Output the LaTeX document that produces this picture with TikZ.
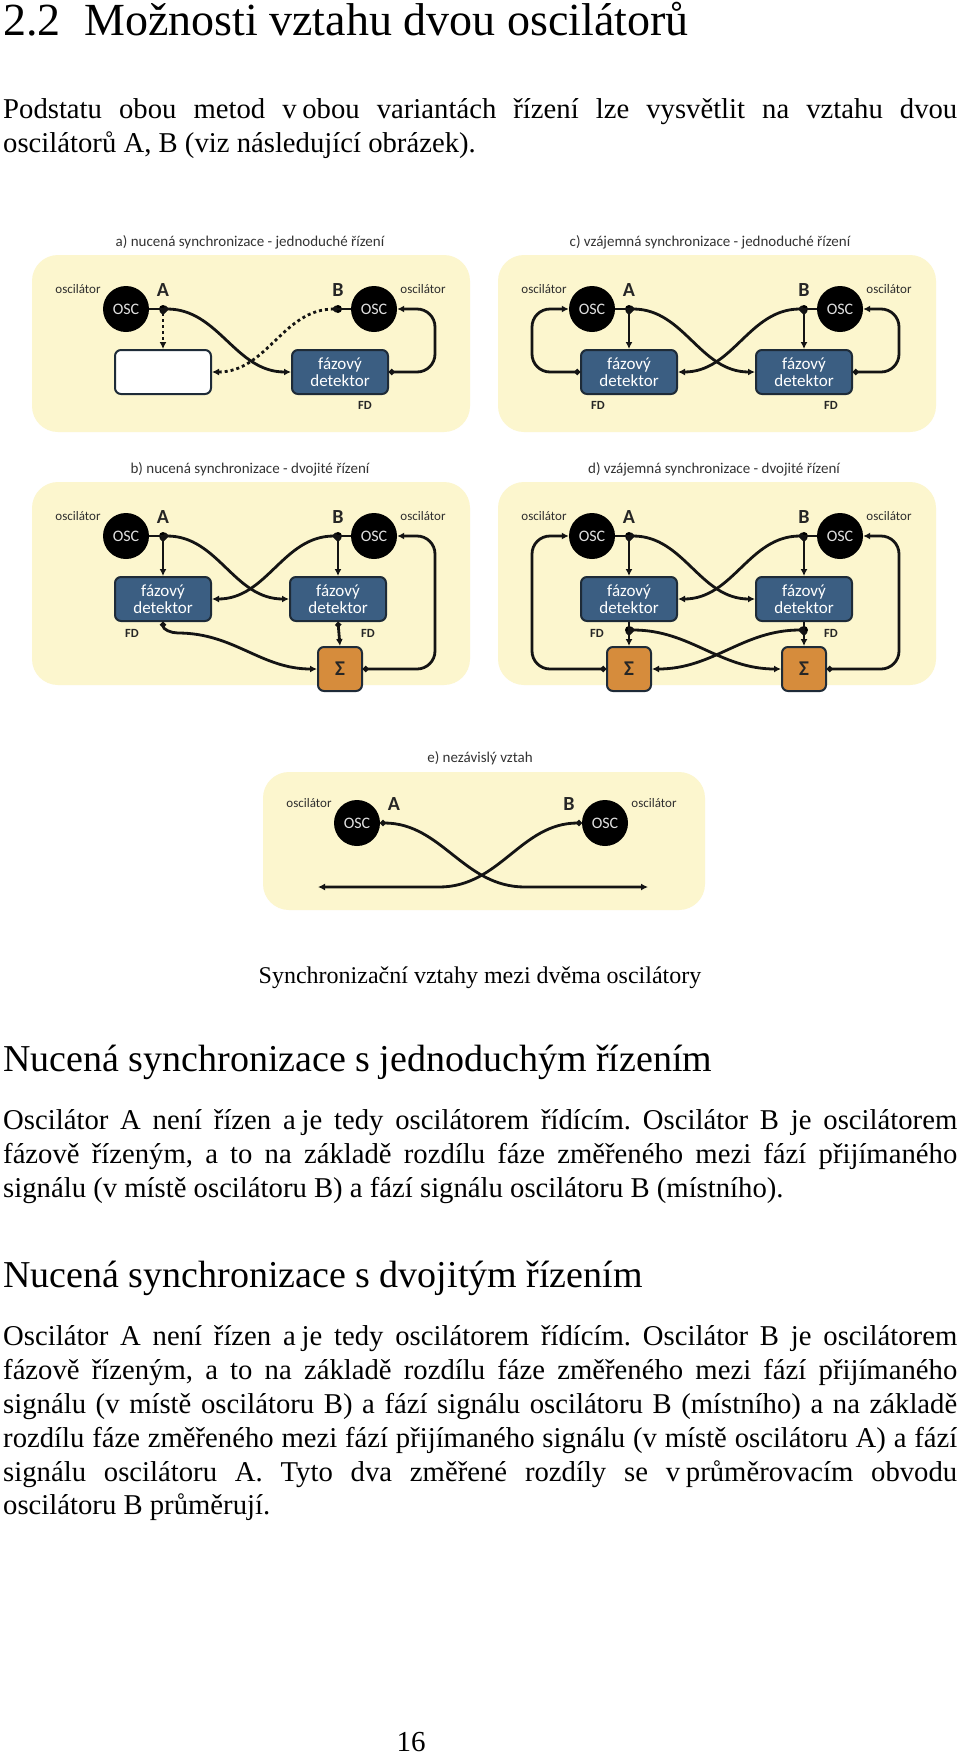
\documentclass[tikz,border=0pt]{standalone}
\usepackage{fontspec}
\setmainfont{Liberation Serif}
\newfontfamily\diafont{Carlito}
\usetikzlibrary{arrows.meta,positioning}
\frenchspacing

\definecolor{panelyellow}{HTML}{FCF6CE}
\definecolor{fdblue}{HTML}{3B5E82}
\definecolor{fdedge}{HTML}{1E2B38}
\definecolor{sumorange}{HTML}{D68C3C}
\definecolor{labgray}{HTML}{2E2E2E}

\tikzset{
  panel/.style={fill=panelyellow, rounded corners=26pt},
  osc/.style={circle, fill=black, minimum size=46pt, inner sep=0pt, text=white!88!black,
    font=\diafont\fontsize{16}{16}\selectfont},
  fdbox/.style={draw=fdedge, line width=2pt, fill=fdblue, rounded corners=6pt, minimum width=96pt,
    minimum height=44pt, inner sep=0pt, align=center, text=white, font=\diafont\fontsize{17}{17.5}\selectfont},
  blankbox/.style={fdbox, fill=white},
  sumbox/.style={draw=fdedge, line width=2pt, fill=sumorange, rounded corners=6pt, minimum size=44pt,
    inner sep=0pt, text=black!85, font=\diafont\bfseries\fontsize{21}{21}\selectfont},
  oscname/.style={font=\diafont\bfseries\fontsize{20}{20}\selectfont, text=black!85},
  osclab/.style={font=\diafont\fontsize{13}{13}\selectfont, text=labgray},
  fdlab/.style={font=\diafont\bfseries\fontsize{12.5}{12.5}\selectfont, text=black!85},
  paneltitle/.style={anchor=base, font=\diafont\fontsize{15}{15}\selectfont, text=black!80},
  link/.style={line width=2.8pt, draw=black!92},
  wire/.style={link, arrows={Circle[length=5.5pt]-Latex[length=7pt,width=7pt]}},
  pilot/.style={wire, dash pattern=on 3pt off 3pt},
  jdot/.style={circle, fill=black, inner sep=0pt, minimum size=8pt},
  body/.style={anchor=base west, inner sep=0pt, font=\fontsize{28.7}{33.8}\selectfont},
  heading/.style={anchor=base west, inner sep=0pt, font=\fontsize{38}{38}\selectfont},
}

% one justified line of the page text
\newcommand\jline[1]{\makebox[954pt][s]{#1}}
% the two oscillators with their labels, #1 = height of the centres
\newcommand\oscrow[1]{%
  \node[osc] (oscA) at (94,#1) {OSC};
  \node[osc] (oscB) at (342,#1) {OSC};
  \node[oscname] (nameA) at (131,#1-19) {A};
  \node[oscname] (nameB) at (306,#1-19) {B};
  \node[osclab] (labA) at (46,#1-20) {oscilátor};
  \node[osclab] (labB) at (391,#1-20) {oscilátor};
}

\begin{document}
\begin{tikzpicture}[x=1pt,y=-1pt]
  \useasboundingbox (0,0) rectangle (960,1754);
  \fill[white] (0,0) rectangle (960,1754);

  % page text
  \node[anchor=base west, inner sep=0pt, font=\fontsize{46}{46}\selectfont] (secnum) at (3,35) {2.2};
  \node[anchor=base west, inner sep=0pt, font=\fontsize{46}{46}\selectfont] (sectitle) at (84,35) {Možnosti vztahu dvou oscilátorů};
  \node[body] (intro1) at (3,118) {\jline{Podstatu obou metod v\kern.2em obou variantách řízení lze vysvětlit na vztahu dvou}};
  \node[body] (intro2) at (3,152) {oscilátorů A, B (viz následující obrázek).};

  % a) nucena synchronizace - jednoduche rizeni
  \begin{scope}[shift={(32,255)}]
    \fill[panel] (0,0) rectangle (438,177);
    \node[paneltitle] (titleA) at (218,-9) {a) nucená synchronizace - jednoduché řízení};
    \oscrow{54}
    \node[jdot] (dotA) at (131,54) {};
    \node[jdot] (dotB) at (306,54) {};
    \node[blankbox] (fd1) at (131,117) {};
    \node[fdbox] (fd2) at (308,117) {fázový\\detektor};
    \node[fdlab] (fdl2) at (333,150) {FD};
    \draw[link] (oscA.east) -- (dotA.center);
    \draw[link] (dotB.center) -- (oscB.west);
    \draw[pilot] (dotA.center) -- (fd1.north);
    \draw[wire] (dotA.center) to[out=0,in=180] (fd2.west);
    \draw[pilot] (dotB.center) to[out=180,in=0] (fd1.east);
    \draw[wire, rounded corners=18pt] (fd2.east) -| (403,54) -- (oscB.east);
  \end{scope}

  % c) vzajemna synchronizace - jednoduche rizeni
  \begin{scope}[shift={(498,255)}]
    \fill[panel] (0,0) rectangle (438,177);
    \node[paneltitle] (titleC) at (212,-9) {c) vzájemná synchronizace - jednoduché řízení};
    \oscrow{54}
    \node[jdot] (dotA) at (131,54) {};
    \node[jdot] (dotB) at (306,54) {};
    \node[fdbox] (fd1) at (131,117) {fázový\\detektor};
    \node[fdbox] (fd2) at (306,117) {fázový\\detektor};
    \node[fdlab] (fdl1) at (100,150) {FD};
    \node[fdlab] (fdl2) at (333,150) {FD};
    \draw[link] (oscA.east) -- (dotA.center);
    \draw[link] (dotB.center) -- (oscB.west);
    \draw[wire] (dotA.center) -- (fd1.north);
    \draw[wire] (dotB.center) -- (fd2.north);
    \draw[wire] (dotA.center) to[out=0,in=180] (fd2.west);
    \draw[wire] (dotB.center) to[out=180,in=0] (fd1.east);
    \draw[wire, rounded corners=18pt] (fd1.west) -| (34,54) -- (oscA.west);
    \draw[wire, rounded corners=18pt] (fd2.east) -| (401,54) -- (oscB.east);
  \end{scope}

  % b) nucena synchronizace - dvojite rizeni
  \begin{scope}[shift={(32,482)}]
    \fill[panel] (0,0) rectangle (438,203);
    \node[paneltitle] (titleB) at (218,-9) {b) nucená synchronizace - dvojité řízení};
    \oscrow{54}
    \node[jdot] (dotA) at (131,54) {};
    \node[jdot] (dotB) at (306,54) {};
    \node[fdbox] (fd1) at (131,117) {fázový\\detektor};
    \node[fdbox] (fd2) at (306,117) {fázový\\detektor};
    \node[sumbox] (sg2) at (308,187) {Σ};
    \node[fdlab] (fdl1) at (100,151) {FD};
    \node[fdlab] (fdl2) at (336,151) {FD};
    \draw[link] (oscA.east) -- (dotA.center);
    \draw[link] (dotB.center) -- (oscB.west);
    \draw[wire] (dotA.center) -- (fd1.north);
    \draw[wire] (dotB.center) -- (fd2.north);
    \draw[wire] (dotA.center) to[out=0,in=180] (fd2.west);
    \draw[wire] (dotB.center) to[out=180,in=0] (fd1.east);
    \draw[wire] (fd2.south) -- (sg2.north);
    \draw[wire] (fd1.south) to[out=-90,in=180] (146,151) to[out=0,in=180] (sg2.west);
    \draw[wire, rounded corners=18pt] (sg2.east) -| (403,54) -- (oscB.east);
  \end{scope}

  % d) vzajemna synchronizace - dvojite rizeni
  \begin{scope}[shift={(498,482)}]
    \fill[panel] (0,0) rectangle (438,203);
    \node[paneltitle] (titleD) at (216,-9) {d) vzájemná synchronizace - dvojité řízení};
    \oscrow{54}
    \node[jdot] (dotA) at (131,54) {};
    \node[jdot] (dotB) at (306,54) {};
    \node[fdbox] (fd1) at (131,117) {fázový\\detektor};
    \node[fdbox] (fd2) at (306,117) {fázový\\detektor};
    \node[jdot] (dotF1) at (131,148) {};
    \node[jdot] (dotF2) at (306,148) {};
    \node[sumbox] (sg1) at (131,187) {Σ};
    \node[sumbox] (sg2) at (306,187) {Σ};
    \node[fdlab] (fdl1) at (99,151) {FD};
    \node[fdlab] (fdl2) at (333,151) {FD};
    \draw[link] (oscA.east) -- (dotA.center);
    \draw[link] (dotB.center) -- (oscB.west);
    \draw[wire] (dotA.center) -- (fd1.north);
    \draw[wire] (dotB.center) -- (fd2.north);
    \draw[wire] (dotA.center) to[out=0,in=180] (fd2.west);
    \draw[wire] (dotB.center) to[out=180,in=0] (fd1.east);
    \draw[link] (fd1.south) -- (dotF1.center);
    \draw[link] (fd2.south) -- (dotF2.center);
    \draw[wire] (dotF1.center) -- (sg1.north);
    \draw[wire] (dotF2.center) -- (sg2.north);
    \draw[wire] (dotF1.center) to[out=0,in=180] (sg2.west);
    \draw[wire] (dotF2.center) to[out=180,in=0] (sg1.east);
    \draw[wire, rounded corners=18pt] (sg1.west) -| (34,54) -- (oscA.west);
    \draw[wire, rounded corners=18pt] (sg2.east) -| (401,54) -- (oscB.east);
  \end{scope}

  % e) nezavisly vztah
  \begin{scope}[shift={(263,772)}]
    \fill[panel] (0,0) rectangle (442,138);
    \node[paneltitle] (titleE) at (217,-10) {e) nezávislý vztah};
    \oscrow{51}
    \coordinate (endL) at (55,115);
    \coordinate (endR) at (385,115);
    \draw[wire] (oscA.east) to[out=0,in=180] (262,115) -- (endR);
    \draw[wire] (oscB.west) to[out=180,in=0] (176,115) -- (endL);
  \end{scope}

  \node[anchor=base, inner sep=0pt, font=\fontsize{24}{24}\selectfont] (caption) at (480,983) {Synchronizační vztahy mezi dvěma oscilátory};

  \node[heading] (head1) at (3,1071) {Nucená synchronizace s jednoduchým řízením};
  \node[body] (p1l1) at (3,1129) {\jline{Oscilátor A není řízen a\kern.2em je tedy oscilátorem řídícím. Oscilátor B je oscilátorem}};
  \node[body] (p1l2) at (3,1163) {\jline{fázově řízeným, a to na základě rozdílu fáze změřeného mezi fází přijímaného}};
  \node[body] (p1l3) at (3,1197) {signálu (v místě oscilátoru B) a fází signálu oscilátoru B (místního).};

  \node[heading] (head2) at (3,1287) {Nucená synchronizace s dvojitým řízením};
  \node[body] (p2l1) at (3,1345) {\jline{Oscilátor A není řízen a\kern.2em je tedy oscilátorem řídícím. Oscilátor B je oscilátorem}};
  \node[body] (p2l2) at (3,1379) {\jline{fázově řízeným, a to na základě rozdílu fáze změřeného mezi fází přijímaného}};
  \node[body] (p2l3) at (3,1413) {\jline{signálu (v místě oscilátoru B) a fází signálu oscilátoru B (místního) a na základě}};
  \node[body] (p2l4) at (3,1447) {\jline{rozdílu fáze změřeného mezi fází přijímaného signálu (v místě oscilátoru A) a fází}};
  \node[body] (p2l5) at (3,1481) {\jline{signálu oscilátoru A. Tyto dva změřené rozdíly se v\kern.2em průměrovacím obvodu}};
  \node[body] (p2l6) at (3,1514) {oscilátoru B průměrují.};

  \node[anchor=base, inner sep=0pt, font=\fontsize{29}{29}\selectfont] (pagenum) at (411,1751) {16};
\end{tikzpicture}
\end{document}
